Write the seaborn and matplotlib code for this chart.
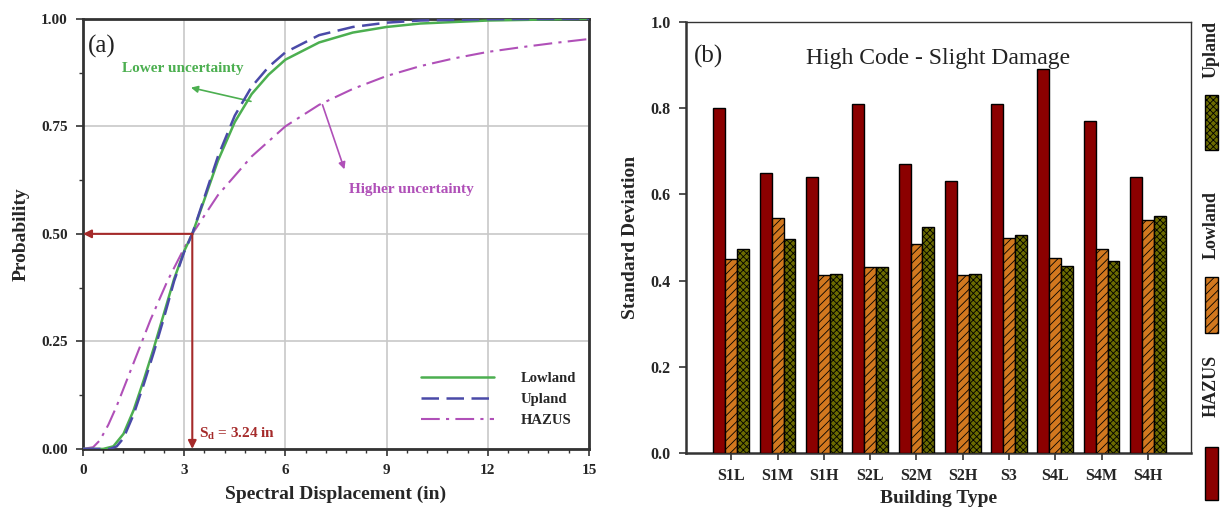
import numpy as np
import pandas as pd
import matplotlib
matplotlib.use("Agg")
import matplotlib.pyplot as plt
from matplotlib.patches import Rectangle
from matplotlib.lines import Line2D
from matplotlib.ticker import AutoMinorLocator, MultipleLocator
import seaborn as sns

# ---------------- data ----------------
median_sd = 3.24

lowland_x = [0.0, 0.6, 0.9, 1.2, 1.5, 1.8, 2.1, 2.4, 2.7, 3.0, 3.24, 3.6, 4.0, 4.5, 5.0, 5.5, 6.0, 7.0, 8.0, 9.0, 10.0, 12.0, 15.0]
lowland_y = [0.0, 0.0, 0.006, 0.035, 0.09, 0.16, 0.235, 0.315, 0.395, 0.46, 0.50, 0.58, 0.67, 0.76, 0.825, 0.87, 0.905, 0.945, 0.968, 0.981, 0.989, 0.996, 1.0]

upland_x = [0.0, 0.8, 1.0, 1.2, 1.5, 1.8, 2.1, 2.4, 2.7, 3.0, 3.24, 3.6, 4.0, 4.5, 5.0, 5.5, 6.0, 7.0, 8.0, 9.0, 10.0, 12.0, 15.0]
upland_y = [0.0, 0.0, 0.006, 0.025, 0.08, 0.15, 0.225, 0.305, 0.39, 0.458, 0.50, 0.585, 0.68, 0.775, 0.842, 0.888, 0.922, 0.962, 0.981, 0.991, 0.996, 0.999, 1.0]

hazus_x = [0.0, 0.3, 0.5, 0.75, 1.0, 1.25, 1.5, 1.75, 2.0, 2.5, 3.0, 3.24, 4.0, 5.0, 6.0, 7.0, 8.0, 9.0, 10.0, 11.0, 12.0, 13.0, 14.0, 15.0]
hazus_y = [0.0, 0.004, 0.02, 0.056, 0.10, 0.15, 0.20, 0.25, 0.30, 0.39, 0.467, 0.50, 0.59, 0.68, 0.75, 0.80, 0.837, 0.867, 0.89, 0.908, 0.923, 0.934, 0.944, 0.953]

building_types = ["S1L", "S1M", "S1H", "S2L", "S2M", "S2H", "S3", "S4L", "S4M", "S4H"]
std_hazus = [0.80, 0.65, 0.64, 0.81, 0.67, 0.63, 0.81, 0.89, 0.77, 0.64]
std_lowland = [0.45, 0.545, 0.413, 0.432, 0.485, 0.413, 0.50, 0.453, 0.473, 0.54]
std_upland = [0.473, 0.497, 0.415, 0.432, 0.524, 0.415, 0.506, 0.435, 0.445, 0.55]
sources = ["HAZUS", "Lowland", "Upland"]

# ---------------- style ----------------
sns.set_style("white")
plt.rcParams["font.family"] = ["Liberation Serif", "DejaVu Serif"]
plt.rcParams["mathtext.fontset"] = "custom"
plt.rcParams["mathtext.rm"] = "Liberation Serif:bold"
plt.rcParams["mathtext.it"] = "Liberation Serif:bold"
plt.rcParams["hatch.linewidth"] = 0.6

c_low = "#4caf50"
c_up = "#4a4aa8"
c_haz = "#b050b8"
c_red = "#a52a2a"
c_spine = "#333333"

fig = plt.figure(figsize=(12.28, 5.22), dpi=100)
axa = fig.add_axes([0.0676, 0.140, 0.412, 0.824])
axb = fig.add_axes([0.5586, 0.132, 0.4112, 0.826])
lax = fig.add_axes([0.972, 0.0, 0.028, 1.0])

# ---------------- panel (a) ----------------
sns.lineplot(x=hazus_x, y=hazus_y, ax=axa, color=c_haz, lw=1.5,
             linestyle=(0, (9, 3, 1.5, 3)), zorder=3)
sns.lineplot(x=lowland_x, y=lowland_y, ax=axa, color=c_low, lw=1.8, zorder=4)
sns.lineplot(x=upland_x, y=upland_y, ax=axa, color=c_up, lw=1.8,
             linestyle=(0, (7, 3)), zorder=5)

axa.set_xlim(0, 15)
axa.set_ylim(0, 1)
axa.xaxis.set_major_locator(MultipleLocator(3))
axa.yaxis.set_major_locator(MultipleLocator(0.25))
axa.xaxis.set_minor_locator(AutoMinorLocator(5))
axa.yaxis.set_minor_locator(AutoMinorLocator(2))
axa.set_yticks([0, 0.25, 0.5, 0.75, 1.0])
axa.set_yticklabels(["0.00", "0.25", "0.50", "0.75", "1.00"])
axa.grid(True, which="major", color="#c8c8c8", lw=1.2, zorder=0)
axa.set_axisbelow(True)
for s in axa.spines.values():
    s.set_color(c_spine)
    s.set_linewidth(2.0)
axa.tick_params(which="major", direction="out", length=5, width=1.2, color=c_spine,
                labelsize=11, pad=6, bottom=True, left=True)
axa.tick_params(which="minor", direction="out", length=3, width=1.0, color=c_spine,
                bottom=True, left=True)
for lbl in axa.get_xticklabels() + axa.get_yticklabels():
    lbl.set_fontweight("bold")
axa.set_xlabel("Spectral Displacement (in)", fontsize=14, fontweight="bold", labelpad=6)
axa.set_ylabel("Probability", fontsize=14, fontweight="bold", labelpad=8)

# median arrows
axa.annotate("", xy=(0, 0.5), xytext=(median_sd, 0.5),
             arrowprops=dict(arrowstyle="-|>", color=c_red, lw=1.5, shrinkA=0, shrinkB=0,
                             mutation_scale=12), zorder=6)
axa.annotate("", xy=(median_sd, 0), xytext=(median_sd, 0.5),
             arrowprops=dict(arrowstyle="-|>", color=c_red, lw=1.5, shrinkA=0, shrinkB=0,
                             mutation_scale=12), zorder=6)
axa.text(median_sd + 0.2, 0.035, "S$_{d}$ = %.2f in" % median_sd, color=c_red,
         fontsize=11, fontweight="bold", ha="left", va="center")

axa.text(1.15, 0.885, "Lower uncertainty", color=c_low, fontsize=11, fontweight="bold",
         ha="left", va="center")
axa.annotate("", xy=(3.2, 0.84), xytext=(4.98, 0.808),
             arrowprops=dict(arrowstyle="-|>", color=c_low, lw=1.2, shrinkA=0, shrinkB=0,
                             mutation_scale=10))
axa.text(7.9, 0.602, "Higher uncertainty", color=c_haz, fontsize=11, fontweight="bold",
         ha="left", va="center")
axa.annotate("", xy=(7.75, 0.65), xytext=(7.1, 0.80),
             arrowprops=dict(arrowstyle="-|>", color=c_haz, lw=1.2, shrinkA=0, shrinkB=0,
                             mutation_scale=10))
axa.text(0.15, 0.935, "(a)", fontsize=18, ha="left", va="center", color="#222222")

handles = [Line2D([], [], color=c_low, lw=1.8),
           Line2D([], [], color=c_up, lw=1.8, linestyle=(0, (7, 3))),
           Line2D([], [], color=c_haz, lw=1.5, linestyle=(0, (9, 3, 1.5, 3)))]
leg = axa.legend(handles, ["Lowland", "Upland", "HAZUS"], loc="lower right",
                 bbox_to_anchor=(1.0, 0.02), frameon=False, handlelength=5.0,
                 handletextpad=1.8, labelspacing=0.55, prop={"size": 10.5, "weight": "bold"})

# ---------------- panel (b) ----------------
df = pd.DataFrame({
    "Building": building_types * 3,
    "Source": [s for s in sources for _ in building_types],
    "Std": std_hazus + std_lowland + std_upland,
})
bar_colors = {"HAZUS": "#8b0000", "Lowland": "#d2781f", "Upland": "#6b6b00"}
hatches = {"HAZUS": "", "Lowland": "////", "Upland": "xxxxx"}
sns.barplot(data=df, x="Building", y="Std", hue="Source", hue_order=sources,
            order=building_types, palette=bar_colors, saturation=1, width=0.77,
            edgecolor="black", linewidth=1.0, legend=False, ax=axb, zorder=3)
for src, cont in zip(sources, axb.containers):
    for bar in cont:
        bar.set_hatch(hatches[src])

axb.set_xlim(-0.98, 9.93)
axb.set_ylim(0, 1.0)
axb.set_yticks([0.0, 0.2, 0.4, 0.6, 0.8, 1.0])
axb.set_yticklabels(["0.0", "0.2", "0.4", "0.6", "0.8", "1.0"])
for name in ["left", "bottom"]:
    axb.spines[name].set_color(c_spine)
    axb.spines[name].set_linewidth(1.8)
for name in ["top", "right"]:
    axb.spines[name].set_color(c_spine)
    axb.spines[name].set_linewidth(1.0)
axb.tick_params(direction="out", length=5, width=1.2, color=c_spine, labelsize=11.5, pad=6,
                bottom=True, left=True)
for lbl in axb.get_xticklabels() + axb.get_yticklabels():
    lbl.set_fontweight("bold")
axb.set_xlabel("Building Type", fontsize=14, fontweight="bold", labelpad=4)
axb.set_ylabel("Standard Deviation", fontsize=14, fontweight="bold", labelpad=8)
axb.text(0.5, 0.915, "High Code - Slight Damage", transform=axb.transAxes, fontsize=17,
         ha="center", va="center", color="#222222")
axb.text(0.015, 0.92, "(b)", transform=axb.transAxes, fontsize=18, ha="left",
         va="center", color="#222222")

# ---------------- vertical legend for (b) ----------------
lax.set_xlim(0, 1)
lax.set_ylim(522, 0)
lax.axis("off")
legend_layout = [("HAZUS", 447, 500, 386), ("Lowland", 277, 333, 225), ("Upland", 95, 150, 50)]
for src, y0, y1, ty in legend_layout:
    lax.add_patch(Rectangle((0.32, y0), 0.4, y1 - y0, facecolor=bar_colors[src],
                            edgecolor="black", lw=1.0, hatch=hatches[src]))
    lax.text(0.52, ty, src, rotation=90, ha="center", va="center", fontsize=13,
             fontweight="bold", color="#222222")

fig.savefig("out.png", dpi=100)
